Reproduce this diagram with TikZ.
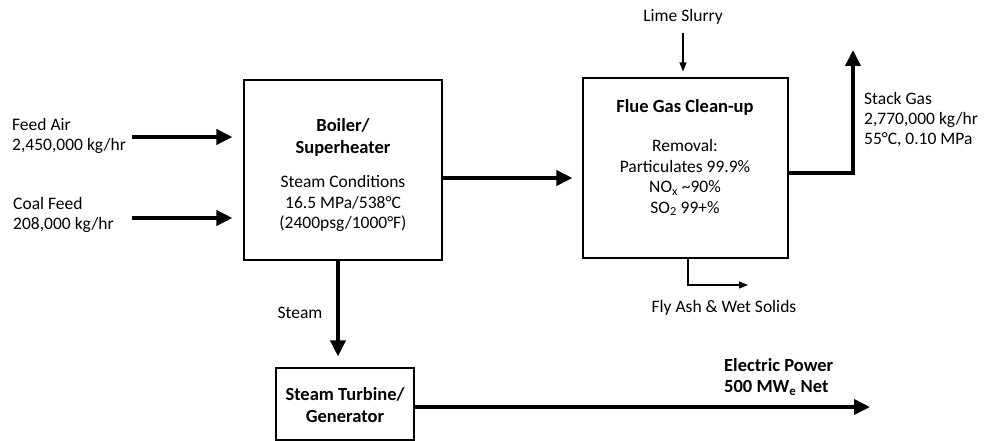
\documentclass[tikz,border=0pt]{standalone}
\usepackage{fontspec}
\setmainfont{Carlito}
\usetikzlibrary{arrows.meta}
\begin{document}
\begin{tikzpicture}[x=1pt,y=-1pt,
  box/.style={draw, line width=1.1pt, inner sep=0pt},
  bigarrow/.style={line width=3.6pt, -{Triangle[length=16pt,width=15pt]}},
  smallarrow/.style={line width=1.2pt, -{Triangle[length=9pt,width=7pt]}},
  txt/.style={font=\fontsize{17.5}{20.5}\selectfont, inner sep=0pt, align=center},
  ltxt/.style={font=\fontsize{17.5}{20}\selectfont, inner sep=0pt, align=left},
  btxt/.style={font=\bfseries\fontsize{18.5}{21.5}\selectfont, inner sep=0pt, align=center},
]
\useasboundingbox (0,0) rectangle (986,441);

% boxes
\node[box, minimum width=198pt, minimum height=180pt] (boiler) at (343,170) {};
\node[box, minimum width=205pt, minimum height=180pt] (flue) at (685.5,168) {};
\node[box, minimum width=138pt, minimum height=72pt] (turbine) at (345,404) {};

% box texts
\node[btxt] (boilertitle) at (343,137.5) {Boiler/\\Superheater};
\node[txt] (boilerbody) at (343,203.5) {Steam Conditions\\16.5 MPa/538\textdegree C\\(2400psg/1000\textdegree F)};
\node[btxt] (fluetitle) at (685,107) {Flue Gas Clean-up};
\node[txt] (fluebody) at (685,177.5) {Removal:\\Particulates 99.9\%\\NO\textsubscript{x} \textasciitilde 90\%\\SO\textsubscript{2} 99+\%};
\node[btxt] (turbinetitle) at (345,405) {Steam Turbine/\\Generator};

% stream labels
\node[ltxt, anchor=west] (feedair) at (12,136) {Feed Air\\2,450,000 kg/hr};
\node[ltxt, anchor=west] (coalfeed) at (13,215) {Coal Feed\\208,000 kg/hr};
\node[txt] (lime) at (683,17) {Lime Slurry};
\node[ltxt, anchor=west] (stack) at (864,120) {Stack Gas\\2,770,000 kg/hr\\55\textdegree C, 0.10 MPa};
\node[txt] (flyash) at (724,308) {Fly Ash \& Wet Solids};
\node[txt] (steam) at (300,313) {Steam};
\node[btxt, align=left, anchor=west] (power) at (724,377) {Electric Power\\500 MW\textsubscript{e} Net};

% coordinates
\coordinate (fa) at (132,137);
\coordinate (cf) at (132,218);
\coordinate (stacktop) at (853,50);
\coordinate (limetop) at (683,33);
\coordinate (ashcorner) at (688,285);
\coordinate (ashend) at (748,285);
\coordinate (steamx) at (338,0);
\coordinate (powerend) at (870,407);

% connectors
\draw[bigarrow, shorten >=11pt] (fa) -- (fa -| boiler.west);
\draw[bigarrow, shorten >=11pt] (cf) -- (cf -| boiler.west);
\draw[bigarrow, shorten >=10pt] (boiler.east |- 0,178) -- (flue.west |- 0,178);
\draw[bigarrow] (flue.east |- 0,173) -- (stacktop |- 0,173) -- (stacktop);
\draw[smallarrow, shorten >=6pt] (limetop) -- (limetop |- flue.north);
\draw[smallarrow] (ashcorner |- flue.south) -- (ashcorner) -- (ashend);
\draw[bigarrow, shorten >=11pt] (steamx |- boiler.south) -- (steamx |- turbine.north);
\draw[bigarrow] (turbine.east |- powerend) -- (powerend);
\end{tikzpicture}
\end{document}
